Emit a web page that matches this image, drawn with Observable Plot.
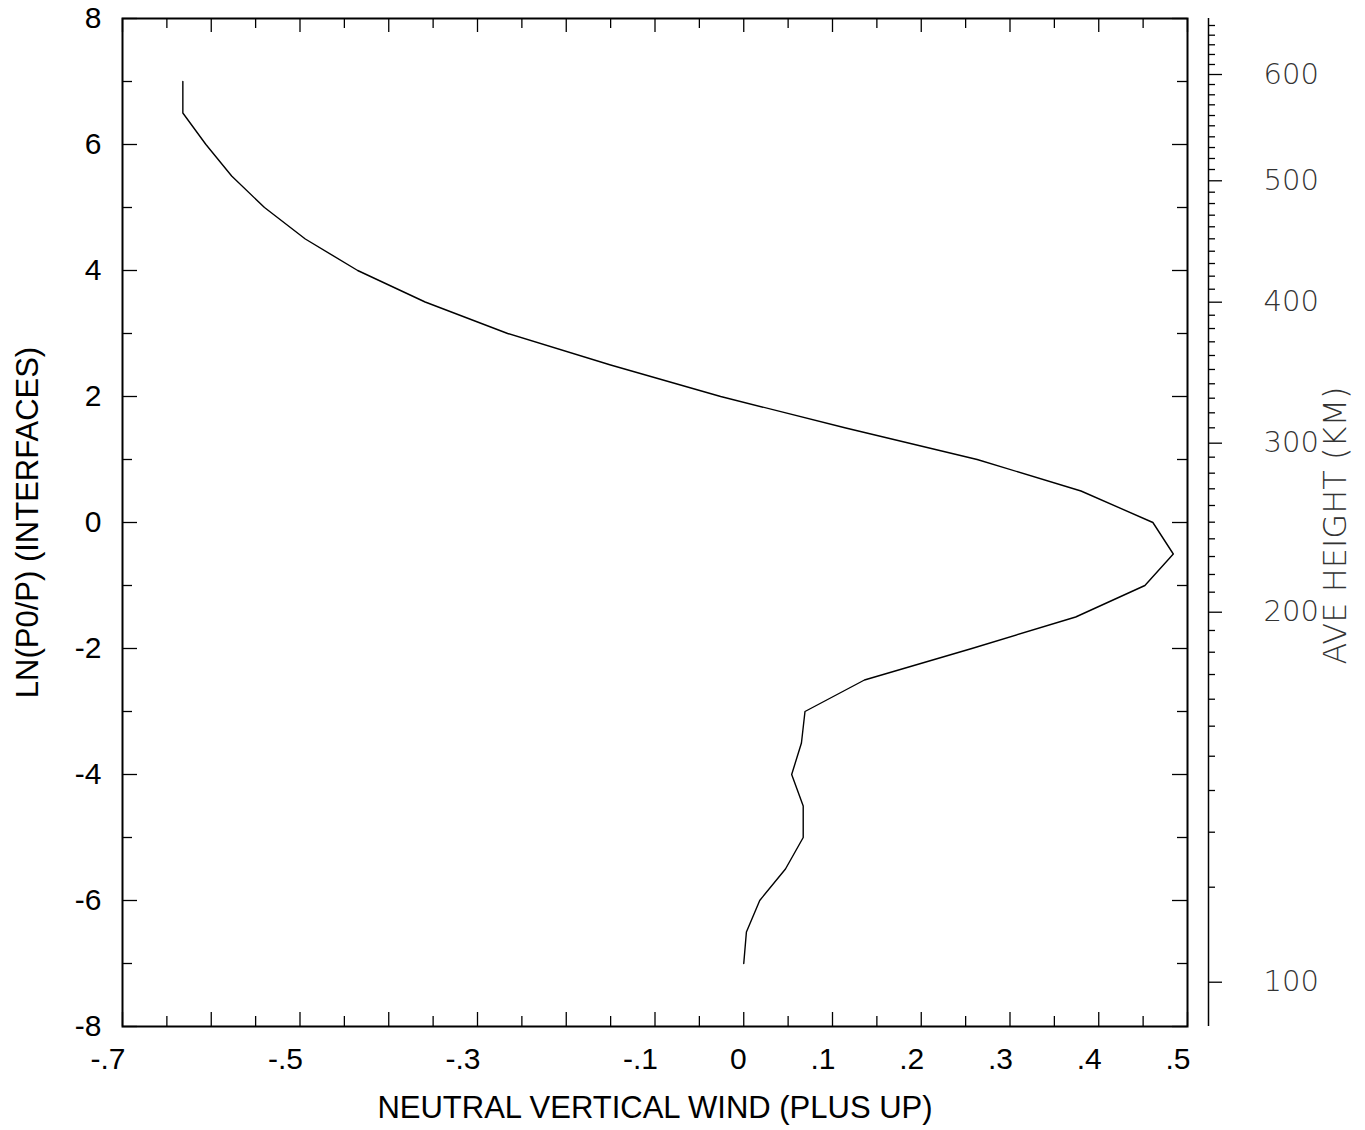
<!DOCTYPE html>
<html><head><meta charset="utf-8">
<script src="https://cdn.jsdelivr.net/npm/d3@7"></script>
<script src="https://cdn.jsdelivr.net/npm/@observablehq/plot@0.6"></script>
<style>
body{margin:0;background:#fff}
#chart svg{display:block}
</style>
</head><body><div id="chart"></div>
<script>
// ---- data ----
const lnP = [-7,-6.5,-6,-5.5,-5,-4.5,-4,-3.5,-3,-2.5,-2,-1.5,-1,-0.5,0,0.5,1,1.5,2,2.5,3,3.5,4,4.5,5,5.5,6,6.5,7];
const wind = [0.000,0.003,0.018,0.047,0.067,0.067,0.054,0.065,0.069,0.136,0.257,0.374,0.452,0.484,0.461,0.380,0.263,0.115,-0.026,-0.150,-0.266,-0.359,-0.435,-0.494,-0.540,-0.577,-0.606,-0.632,-0.632];

const xMajorTicks = [-0.7,-0.6,-0.5,-0.4,-0.3,-0.2,-0.1,0,0.1,0.2,0.3,0.4,0.5];
const xMinorTicks = [-0.65,-0.55,-0.45,-0.35,-0.25,-0.15,-0.05,0.05,0.15,0.25,0.35,0.45];
const xLabelValues = [-0.7,-0.5,-0.3,-0.1,0,0.1,0.2,0.3,0.4,0.5];
const xLabelTexts = ["-.7","-.5","-.3","-.1","0",".1",".2",".3",".4",".5"];

const yMajorTicks = [-8,-6,-4,-2,0,2,4,6,8];
const yMinorTicks = [-7,-5,-3,-1,1,3,5,7];
const yLabelTexts = ["-8","-6","-4","-2","0","2","4","6","8"];

// right axis: average height (km) and its position in ln(p0/p)
const heightKm = [100,110,120,130,140,150,160,170,180,190,200,210,220,230,240,250,260,270,280,290,300,310,320,330,340,350,360,370,380,390,400,410,420,430,440,450,460,470,480,490,500,510,520,530,540,550,560,570,580,590,600,610,620,630,640,650];
const heightLnP = [-7.297,-5.789,-4.916,-4.254,-3.710,-3.233,-2.805,-2.413,-2.059,-1.714,-1.424,-1.106,-0.825,-0.540,-0.259,0.005,0.270,0.535,0.783,1.037,1.259,1.503,1.741,1.973,2.202,2.429,2.651,2.868,3.079,3.290,3.497,3.703,3.910,4.111,4.306,4.503,4.694,4.878,5.063,5.243,5.424,5.603,5.778,5.952,6.122,6.297,6.460,6.630,6.789,6.952,7.111,7.270,7.429,7.583,7.735,7.889];
const heightLabelKm = [100,200,300,400,500,600];

// ---- build ----
const profile = lnP.map((z, i) => ({z, w: wind[i]}));
const hTicks = heightKm.map((h, i) => ({h, z: heightLnP[i]}));
const hMajor = hTicks.filter(d => heightLabelKm.includes(d.h));
const hMinor = hTicks.filter(d => !heightLabelKm.includes(d.h));

const sans = "'Liberation Sans', Arial, Helvetica, sans-serif";
const thin = "'DejaVu Sans', 'Liberation Sans', sans-serif";

const chart = Plot.plot({
  width: 1365,
  height: 1130,
  marginLeft: 122,
  marginRight: 178,
  marginTop: 18,
  marginBottom: 104,
  style: {background: "#fff", color: "#000", fontFamily: sans},
  x: {domain: [-0.7, 0.5], axis: null},
  y: {domain: [-8, 8], axis: null},
  marks: [
    Plot.frame({stroke: "#000", strokeWidth: 2}),
    Plot.ruleX(xMajorTicks, {x: d => d, y1: -8, y2: -8, insetTop: -14, stroke: "#000", strokeWidth: 1.3}),
    Plot.ruleX(xMinorTicks, {x: d => d, y1: -8, y2: -8, insetTop: -10, stroke: "#000", strokeWidth: 1.3}),
    Plot.ruleX(xMajorTicks, {x: d => d, y1: 8, y2: 8, insetBottom: -14, stroke: "#000", strokeWidth: 1.3}),
    Plot.ruleX(xMinorTicks, {x: d => d, y1: 8, y2: 8, insetBottom: -10, stroke: "#000", strokeWidth: 1.3}),
    Plot.ruleY(yMajorTicks, {y: d => d, x1: -0.7, x2: -0.7, insetRight: -15, stroke: "#000", strokeWidth: 1.3}),
    Plot.ruleY(yMinorTicks, {y: d => d, x1: -0.7, x2: -0.7, insetRight: -10, stroke: "#000", strokeWidth: 1.3}),
    Plot.ruleY(yMajorTicks, {y: d => d, x1: 0.5, x2: 0.5, insetLeft: -15, stroke: "#000", strokeWidth: 1.3}),
    Plot.ruleY(yMinorTicks, {y: d => d, x1: 0.5, x2: 0.5, insetLeft: -10, stroke: "#000", strokeWidth: 1.3}),
    // tick labels
    Plot.text(xLabelValues, {x: d => d, y: -8, dy: 33, text: (d, i) => xLabelTexts[i], textAnchor: "end", dx: 3, fontSize: 30, fill: "#000"}),
    Plot.text(yMajorTicks, {x: -0.7, y: d => d, dx: -21, text: (d, i) => yLabelTexts[i], textAnchor: "end", fontSize: 30, fill: "#000"}),
    // axis titles
    Plot.text(["NEUTRAL VERTICAL WIND (PLUS UP)"], {x: -0.1, y: -8, dy: 82, text: d => d, fontSize: 31, fill: "#000"}),
    Plot.text(["LN(P0/P) (INTERFACES)"], {x: -0.7, y: 0, dx: -94, text: d => d, rotate: -90, fontSize: 31, fill: "#000"}),
    // right height axis
    Plot.ruleX([0.5], {x: d => d, y1: -8, y2: 8, dx: 21, stroke: "#000", strokeWidth: 1.5}),
    Plot.ruleY(hMajor, {y: "z", x1: 0.5, x2: 0.5, dx: 21, insetRight: -14, stroke: "#000", strokeWidth: 1.3}),
    Plot.ruleY(hMinor, {y: "z", x1: 0.5, x2: 0.5, dx: 21, insetRight: -7, stroke: "#000", strokeWidth: 1.3}),
    Plot.text(hMajor, {x: 0.5, y: "z", dx: 76, text: d => String(d.h), textAnchor: "start", fontSize: 29, fontFamily: thin, fontWeight: 200, fill: "#333"}),
    Plot.text(["AVE HEIGHT (KM)"], {x: 0.5, y: 0, dx: 148, dy: 3, text: d => d, rotate: -90, fontSize: 32, fontFamily: thin, fontWeight: 200, fill: "#333"}),
    // profile
    Plot.line(profile, {x: "w", y: "z", stroke: "#000", strokeWidth: 1.4, curve: "linear"})
  ]
});
document.getElementById("chart").appendChild(chart);
</script>
</body></html>
